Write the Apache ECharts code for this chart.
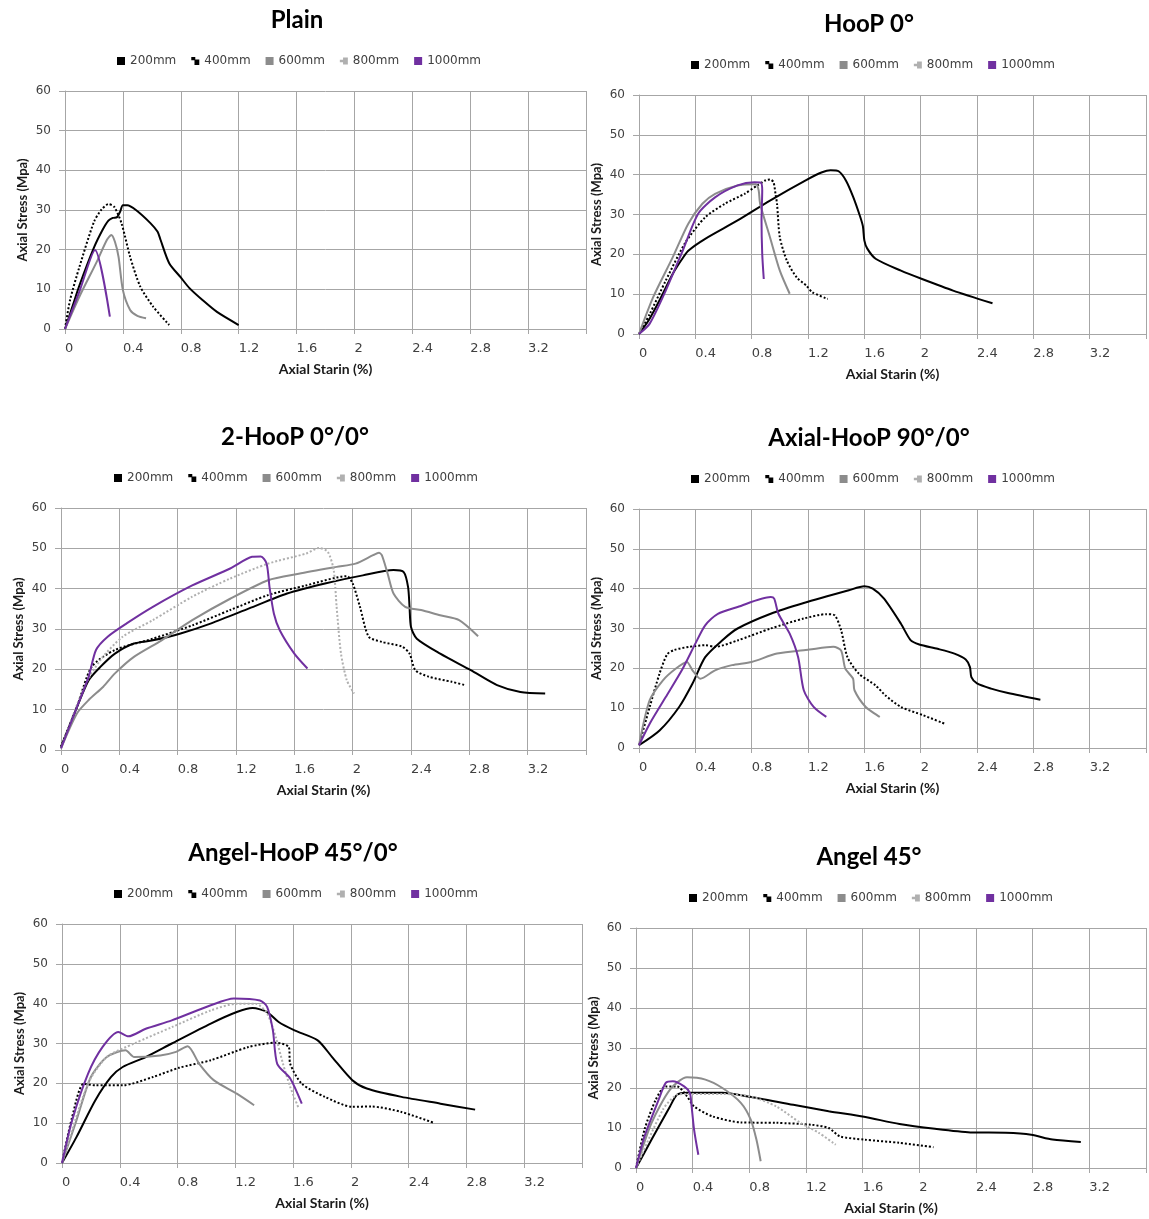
<!DOCTYPE html>
<html>
<head>
<meta charset="utf-8">
<title>Axial stress-strain</title>
<script src="https://cdn.jsdelivr.net/npm/echarts@6/dist/echarts.min.js"></script>
<style>
  html, body { margin: 0; padding: 0; background: #fff; }
  #main { width: 1149px; height: 1219px; }
</style>
</head>
<body>
<div id="main"></div>
<script>
// series names (specimen length)
var seriesNames = ['200mm', '400mm', '600mm', '800mm', '1000mm'];
var xTicks = [0, 0.4, 0.8, 1.2, 1.6, 2, 2.4, 2.8, 3.2];

// Plain
var plain200 = [[0,0],[0.05,5.5],[0.1,11],[0.2,20.5],[0.26,25],[0.3,27.3],[0.33,28],[0.36,28.2],[0.38,29.5],[0.4,31.2],[0.43,31.2],[0.49,30],[0.59,26.7],[0.64,24.5],[0.66,22.5],[0.72,16.6],[0.8,13],[0.86,10.3],[0.95,7.3],[1.05,4.3],[1.2,1]];
var plain400 = [[0,0],[0.035,7.3],[0.1,15.7],[0.2,27],[0.25,30],[0.3,31.5],[0.34,30.8],[0.39,26.7],[0.45,18.2],[0.52,10.7],[0.61,5.6],[0.72,1]];
var plain600 = [[0,0],[0.1,8.2],[0.22,17],[0.29,22.5],[0.32,23.7],[0.345,22],[0.37,18.2],[0.4,9.8],[0.45,4.8],[0.5,3.3],[0.56,2.7]];
var plain800 = [];
var plain1000 = [[0,0],[0.1,9.5],[0.207,19.9],[0.31,3.1]];

// HooP 0°
var hoop200 = [[0,0],[0.07,3.5],[0.145,8.4],[0.24,15.1],[0.3,18.5],[0.35,20.9],[0.47,23.9],[0.7,28.5],[0.93,33.5],[1.19,38.7],[1.3,40.6],[1.36,41.1],[1.42,40.8],[1.47,38.5],[1.52,34.5],[1.57,29.5],[1.59,27],[1.6,23.5],[1.62,21.5],[1.68,18.9],[1.86,15.9],[2.01,13.8],[2.23,10.9],[2.51,7.7]];
var hoop400 = [[0,0],[0.076,5],[0.19,13.4],[0.33,23],[0.47,29.3],[0.61,32.7],[0.75,35.2],[0.84,37.3],[0.9,38.6],[0.93,38.8],[0.955,38.1],[0.97,35],[0.98,32.7],[1.0,24.3],[1.05,18.4],[1.12,14.2],[1.19,12.1],[1.23,10.5],[1.34,8.8]];
var hoop600 = [[0,0],[0.1,9.2],[0.24,19.3],[0.35,27.7],[0.45,32.7],[0.54,35.2],[0.7,37.3],[0.83,37.6],[0.85,36],[0.86,32.7],[0.93,24.3],[1.0,15.9],[1.07,10.1]];
var hoop800 = [];
var hoop1000 = [[0,0],[0.076,2.6],[0.19,10.9],[0.31,20.9],[0.42,30.2],[0.54,34.3],[0.7,37.3],[0.82,38.1],[0.865,38],[0.875,36],[0.87,28.5],[0.875,20.1],[0.886,13.8]];

// 2-HooP 0°/0°
var twoHoop200 = [[0,0.8],[0.11,10.7],[0.19,17.3],[0.27,20.6],[0.37,23.9],[0.5,26.4],[0.63,27.2],[0.82,28.9],[1.03,31.4],[1.29,35.1],[1.55,38.8],[1.81,41.3],[2.07,43.3],[2.28,44.6],[2.35,44.1],[2.38,40.4],[2.39,35.5],[2.4,30.5],[2.44,27.6],[2.6,23.9],[2.81,19.8],[2.99,16.1],[3.15,14.4],[3.32,14]];
var twoHoop400 = [[0,0.8],[0.11,10.7],[0.21,20.6],[0.37,24.8],[0.63,27.6],[0.9,30.9],[1.16,34.7],[1.42,38.4],[1.68,40.8],[1.96,43.1],[2.0,41.3],[2.05,35.5],[2.11,28.1],[2.2,26.8],[2.34,25.6],[2.39,23.9],[2.43,19.8],[2.52,18.2],[2.68,16.9],[2.77,16.1]];
var twoHoop600 = [[0,0.4],[0.11,9.1],[0.19,12.4],[0.29,15.7],[0.37,19],[0.5,23.1],[0.69,27.2],[0.9,32.2],[1.16,37.5],[1.42,42.1],[1.63,43.7],[1.89,45.4],[2.02,46.2],[2.14,48.3],[2.18,48.9],[2.2,48.3],[2.24,43.7],[2.28,38.8],[2.36,35.5],[2.47,34.7],[2.6,33.4],[2.73,32.2],[2.86,28.2]];
var twoHoop800 = [[0,0.4],[0.16,15.7],[0.27,22.3],[0.42,28],[0.63,32.2],[0.9,38],[1.16,42.5],[1.42,46.2],[1.68,48.7],[1.77,50.1],[1.83,49.1],[1.87,44.6],[1.89,35.5],[1.92,23.9],[1.96,17.3],[2.01,14]];
var twoHoop1000 = [[0,0.4],[0.11,10.7],[0.19,18.2],[0.24,24.8],[0.32,28.1],[0.45,31.4],[0.63,35.5],[0.9,40.8],[1.16,45],[1.31,47.9],[1.37,48],[1.41,46.2],[1.43,40.4],[1.46,33.8],[1.5,29.7],[1.6,23.9],[1.69,20.2]];

// Axial-HooP 90°/0°
var axial200 = [[0,0.7],[0.146,4.4],[0.285,10.3],[0.38,16.2],[0.47,22.8],[0.59,27],[0.7,30],[0.935,33.7],[1.17,36.4],[1.49,39.6],[1.6,40.6],[1.66,40],[1.74,37.5],[1.86,31.2],[1.93,27],[1.99,26],[2.12,24.9],[2.24,23.7],[2.32,22.2],[2.35,20.3],[2.36,17.8],[2.4,16.2],[2.5,14.9],[2.62,13.8],[2.85,12.1]];
var axial400 = [[0,0.7],[0.076,10.3],[0.146,18.7],[0.2,23.5],[0.25,24.6],[0.355,25.4],[0.47,25.8],[0.54,25.4],[0.7,27],[0.935,30],[1.17,32.5],[1.33,33.6],[1.39,33.3],[1.435,29.6],[1.48,22.8],[1.56,18.7],[1.68,15.7],[1.75,13.2],[1.86,10.3],[2.02,8.2],[2.17,6.1]];
var axial600 = [[0,0.7],[0.076,12],[0.17,17],[0.26,19.9],[0.34,21.6],[0.38,19.5],[0.436,17.4],[0.54,19.5],[0.66,20.8],[0.8,21.6],[0.98,23.7],[1.21,24.7],[1.38,25.4],[1.435,24.5],[1.465,19.9],[1.52,17.4],[1.53,14.5],[1.61,10.3],[1.71,7.8]];
var axial800 = [];
var axial1000 = [[0,0.7],[0.076,6.1],[0.19,12.8],[0.31,19.9],[0.4,26.2],[0.47,30.8],[0.56,33.7],[0.7,35.4],[0.935,37.9],[0.96,37.5],[0.99,33.7],[1.07,28.7],[1.13,22.8],[1.17,14.5],[1.24,10.3],[1.33,7.8]];

// Angel-HooP 45°/0°
var angelHoop200 = [[0,0],[0.1,6.5],[0.23,15.7],[0.34,21.6],[0.42,24.1],[0.58,26.6],[0.76,30],[1.03,35],[1.21,37.9],[1.32,38.9],[1.42,37.9],[1.5,35.4],[1.61,33.3],[1.77,30.8],[1.87,26.6],[2.01,20.8],[2.11,18.7],[2.35,16.6],[2.62,14.9],[2.86,13.4]];
var angelHoop400 = [[0,0],[0.07,11.5],[0.15,19.9],[0.23,19.5],[0.42,19.5],[0.63,21.6],[0.81,23.9],[1.03,25.8],[1.29,29.1],[1.48,30.2],[1.57,29.1],[1.58,24.9],[1.66,19.9],[1.82,16.6],[2.01,14.1],[2.14,14.2],[2.35,12.8],[2.58,10]];
var angelHoop600 = [[0,0],[0.1,10.7],[0.2,21.6],[0.31,26.6],[0.44,28.3],[0.5,26.6],[0.68,27],[0.79,27.9],[0.87,29.3],[0.95,24.9],[1.05,20.8],[1.21,17.4],[1.33,14.5]];
var angelHoop800 = [[0,0],[0.18,19.9],[0.31,26.6],[0.5,30],[0.76,34.1],[1.03,38.3],[1.21,40],[1.34,40],[1.42,37.5],[1.48,31.6],[1.53,24.9],[1.58,19.1],[1.64,13.6]];
var angelHoop1000 = [[0,0],[0.07,10.7],[0.18,22.4],[0.28,29.1],[0.39,32.9],[0.46,31.8],[0.58,33.7],[0.76,35.8],[1.03,39.6],[1.19,41.3],[1.37,40.8],[1.42,39.2],[1.46,33.3],[1.49,24.9],[1.58,21.2],[1.66,14.9]];

// Angel 45°
var angel200 = [[0,0],[0.11,7.1],[0.24,15.4],[0.29,18.3],[0.36,18.8],[0.61,18.8],[0.79,17.9],[1.11,15.8],[1.36,14.2],[1.61,12.8],[1.86,11],[2.11,9.8],[2.36,8.9],[2.61,8.8],[2.79,8.3],[2.94,7.1],[3.14,6.5]];
var angel400 = [[0,0],[0.06,9.6],[0.14,17.1],[0.21,20.4],[0.29,20.4],[0.36,17.9],[0.41,15.4],[0.54,12.9],[0.74,11.4],[0.99,11.3],[1.24,10.8],[1.36,10],[1.44,7.9],[1.61,7.1],[1.86,6.3],[2.1,5.2]];
var angel600 = [[0,0],[0.11,11.3],[0.24,19.6],[0.36,22.7],[0.49,22.1],[0.61,20],[0.74,16.3],[0.81,12.1],[0.85,7.1],[0.88,1.7]];
var angel800 = [[0,0],[0.19,14.6],[0.29,18.3],[0.36,18.5],[0.61,18.5],[0.81,17.9],[0.99,15.4],[1.16,11.3],[1.29,8.8],[1.41,5.8]];
var angel1000 = [[0,0],[0.06,7.9],[0.16,17.1],[0.21,21.3],[0.26,21.7],[0.34,20.4],[0.38,18.8],[0.39,16.3],[0.41,9.6],[0.44,3.3]];

// layout of the six panels (pixels)
var panels = [
  { title: 'Plain', data: [plain200, plain400, plain600, plain800, plain1000],
    grid: { left: 65, top: 91, width: 521, height: 238 }, tx: 297, ty: 20, lx: 117, ly: 61 },
  { title: 'HooP 0°', data: [hoop200, hoop400, hoop600, hoop800, hoop1000],
    grid: { left: 639, top: 95, width: 518, height: 239 }, tx: 869, ty: 24, lx: 691, ly: 65 },
  { title: '2-HooP 0°/0°', data: [twoHoop200, twoHoop400, twoHoop600, twoHoop800, twoHoop1000],
    grid: { left: 61, top: 508, width: 525, height: 242 }, tx: 295, ty: 437, lx: 114, ly: 478 },
  { title: 'Axial-HooP 90°/0°', data: [axial200, axial400, axial600, axial800, axial1000],
    grid: { left: 639, top: 509, width: 516, height: 239 }, tx: 869, ty: 438, lx: 691, ly: 479 },
  { title: 'Angel-HooP 45°/0°', data: [angelHoop200, angelHoop400, angelHoop600, angelHoop800, angelHoop1000],
    grid: { left: 62, top: 924, width: 520, height: 239 }, tx: 293, ty: 853, lx: 114, ly: 894 },
  { title: 'Angel 45°', data: [angel200, angel400, angel600, angel800, angel1000],
    grid: { left: 636, top: 928, width: 522, height: 240 }, tx: 869, ty: 857, lx: 689, ly: 898 }
];

var lineColors = ['#000000', '#000000', '#8c8c8c', '#b0b0b0', '#7030a0'];
var lineTypes = ['solid', [2, 2], 'solid', [2, 2], 'solid'];
var legendIcons = [
  'rect',
  'path://M0,0H5V4H0Z M4,3H10V10H4Z',
  'rect',
  'path://M0,4H4V7H0Z M4,1H10V10H4Z',
  'rect'
];
var gridColor = '#a6a6a6';
var labelColor = '#404040';

var chart = echarts.init(document.getElementById('main'));

var option = {
  backgroundColor: '#ffffff',
  animation: false,
  title: [], legend: [], grid: [], xAxis: [], yAxis: [], series: []
};

panels.forEach(function (p, i) {
  option.title.push({
    text: p.title, left: p.tx, top: p.ty - 12, textAlign: 'center', padding: 0,
    textStyle: { fontFamily: 'Lato', fontWeight: 'bold', fontSize: 24, lineHeight: 25, color: '#000' }
  });
  option.legend.push({
    left: p.lx, top: p.ly - 7, padding: 0, itemWidth: 8, itemHeight: 8, itemGap: 15,
    itemStyle: { borderWidth: 0 },
    textStyle: { fontFamily: 'DejaVu Sans', fontSize: 12, color: labelColor, lineHeight: 14 },
    data: seriesNames.map(function (n, k) { return { name: n, icon: legendIcons[k] }; })
  });
  option.grid.push(p.grid);
  option.xAxis.push({
    gridIndex: i, type: 'value', min: 0, max: 3.6, interval: 0.4,
    name: 'Axial Starin (%)', nameLocation: 'middle', nameGap: 33,
    nameTextStyle: { fontFamily: 'Lato', fontWeight: 'bold', fontSize: 14, color: '#1a1a1a' },
    axisLine: { show: true, lineStyle: { color: gridColor, width: 1 } },
    axisTick: { show: true, length: 5, lineStyle: { color: gridColor } },
    splitLine: { show: true, lineStyle: { color: gridColor, width: 1 } },
    axisLabel: {
      align: 'left', margin: 13, fontFamily: 'DejaVu Sans', fontSize: 13, color: labelColor,
      formatter: function (v) {
        var t = xTicks.filter(function (x) { return Math.abs(x - v) < 1e-6; });
        return t.length ? String(t[0]) : '';
      }
    }
  });
  option.yAxis.push({
    gridIndex: i, type: 'value', min: 0, max: 60, interval: 10,
    name: 'Axial Stress (Mpa)', nameLocation: 'middle', nameGap: 36,
    nameTextStyle: { fontFamily: 'Lato', fontWeight: 'bold', fontSize: 13, color: '#1a1a1a' },
    axisLine: { show: true, lineStyle: { color: gridColor, width: 1 } },
    axisTick: { show: true, length: 6, lineStyle: { color: gridColor } },
    splitLine: { show: true, lineStyle: { color: gridColor, width: 1 } },
    axisLabel: { margin: 14, fontFamily: 'DejaVu Sans', fontSize: 12, color: labelColor }
  });
  p.data.forEach(function (d, k) {
    option.series.push({
      name: seriesNames[k], type: 'line', xAxisIndex: i, yAxisIndex: i,
      data: d, showSymbol: false, smooth: 0.25, clip: true,
      itemStyle: { color: lineColors[k] },
      lineStyle: { color: lineColors[k], width: 2, type: lineTypes[k] }
    });
  });
});

chart.setOption(option);
</script>
</body>
</html>
